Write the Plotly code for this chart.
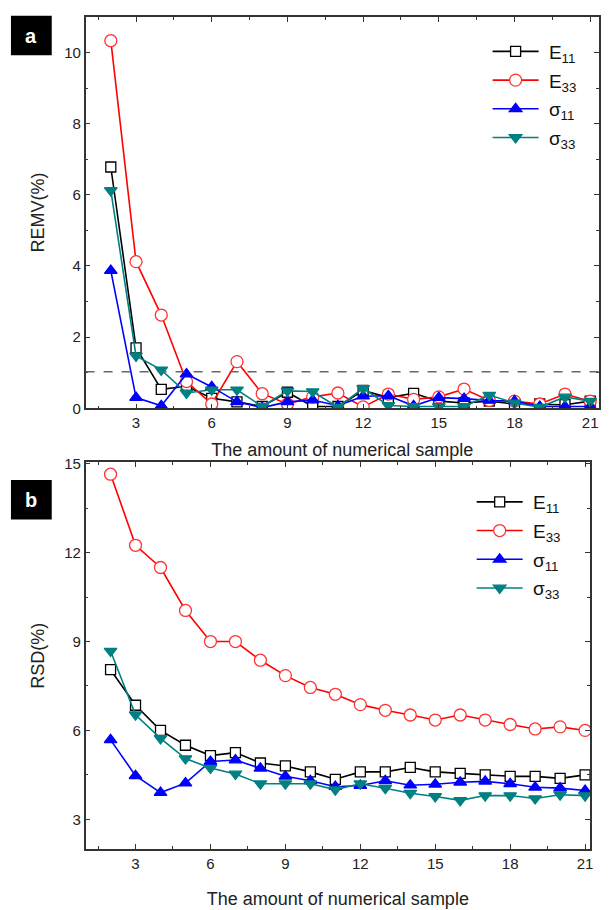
import plotly.graph_objects as go

x = list(range(2, 22))

# Panel a: REMV (%)
remv_E11 = [6.78, 1.70, 0.53, 0.62, 0.28, 0.18, 0.05, 0.45, 0.05, 0.05, 0.50, 0.30, 0.42, 0.20, 0.15, 0.20, 0.12, 0.12, 0.10, 0.20]
remv_E33 = [10.33, 4.12, 2.62, 0.75, 0.12, 1.31, 0.41, 0.12, 0.32, 0.43, 0.04, 0.40, 0.25, 0.32, 0.54, 0.22, 0.20, 0.12, 0.40, 0.20]
remv_S11 = [3.87, 0.30, 0.07, 0.96, 0.60, 0.18, 0.02, 0.18, 0.23, 0.07, 0.34, 0.35, 0.07, 0.30, 0.27, 0.22, 0.20, 0.05, 0.05, 0.05]
remv_S33 = [6.12, 1.47, 1.08, 0.43, 0.52, 0.52, 0.05, 0.49, 0.47, 0.03, 0.56, 0.08, 0.05, 0.05, 0.05, 0.37, 0.15, 0.03, 0.32, 0.20]
threshold = 1.03

# Panel b: RSD (%)
rsd_E11 = [8.05, 6.85, 6.0, 5.5, 5.15, 5.25, 4.9, 4.8, 4.6, 4.35, 4.6, 4.6, 4.75, 4.6, 4.55, 4.5, 4.45, 4.45, 4.38, 4.5]
rsd_E33 = [14.65, 12.25, 11.5, 10.05, 9.0, 9.0, 8.37, 7.85, 7.45, 7.22, 6.87, 6.68, 6.52, 6.35, 6.52, 6.35, 6.2, 6.05, 6.12, 6.0]
rsd_S11 = [5.68, 4.47, 3.9, 4.22, 4.95, 5.0, 4.72, 4.45, 4.3, 4.1, 4.14, 4.3, 4.15, 4.18, 4.25, 4.28, 4.2, 4.08, 4.05, 3.97]
rsd_S33 = [8.68, 6.53, 5.73, 5.05, 4.73, 4.53, 4.2, 4.2, 4.2, 4.0, 4.2, 4.05, 3.88, 3.77, 3.64, 3.8, 3.8, 3.7, 3.83, 3.8]

names = ["\u00a0E<sub>11</sub>", "\u00a0E<sub>33</sub>", "\u00a0σ<sub>11</sub>", "\u00a0σ<sub>33</sub>"]
colors = ["#000000", "#ff0000", "#0000ff", "#008080"]
symbols = ["square", "circle", "triangle-up", "triangle-down"]
msizes = [10, 12, 11, 11]
fills = ["white", "white", "#0000ff", "#008080"]
edges = ["#000000", "#ff3333", "#0000ff", "#008080"]

FONT = "Arial, Liberation Sans, Helvetica, sans-serif"
W, H = 612, 910

fig = go.Figure()

def add_series(data, xa, ya, legend):
    for i, ys in enumerate(data):
        fig.add_trace(go.Scatter(
            x=x, y=ys, mode="lines+markers", name=names[i],
            xaxis=xa, yaxis=ya, legend=legend, legendgroup=legend + str(i),
            line=dict(color=colors[i], width=1.6),
            marker=dict(symbol=symbols[i], size=msizes[i], color=fills[i],
                        line=dict(color=edges[i], width=1.3)),
        ))

add_series([remv_E11, remv_E33, remv_S11, remv_S33], "x", "y", "legend")
add_series([rsd_E11, rsd_E33, rsd_S11, rsd_S33], "x2", "y2", "legend2")

TICKFONT = dict(family=FONT, size=15, color="#222222")
TITLEFONT = dict(family=FONT, size=18, color="#222222")

axis_common = dict(
    showline=True, linecolor="#333333", linewidth=1.5, mirror="ticks",
    ticks="inside", ticklen=5, tickwidth=1.2, tickcolor="#333333",
    showgrid=False, zeroline=False, tickfont=TICKFONT,
)

def minor(vals):
    return dict(tickmode="array", tickvals=vals, ticks="inside", ticklen=3, tickcolor="#333333")

def px_x(p):
    return p / W

def px_y(p):
    return 1 - p / H

xt = [3, 6, 9, 12, 15, 18, 21]
xm = [1.5, 4.5, 7.5, 10.5, 13.5, 16.5, 19.5]

fig.update_layout(
    width=W, height=H,
    margin=dict(l=0, r=0, t=0, b=0),
    paper_bgcolor="white", plot_bgcolor="white",
    xaxis=dict(domain=[px_x(86), px_x(602)], range=[1, 21.35], tickmode="array", tickvals=xt,
               minor=minor(xm),
               title=dict(text="The amount of numerical sample", standoff=13, font=TITLEFONT),
               anchor="y", **axis_common),
    yaxis=dict(domain=[px_y(408), px_y(10)], range=[0, 11], tickmode="array",
               tickvals=[0, 2, 4, 6, 8, 10], minor=minor([1, 3, 5, 7, 9]),
               title=dict(text="REMV(%)", standoff=15, font=TITLEFONT),
               anchor="x", **axis_common),
    xaxis2=dict(domain=[px_x(86), px_x(593)], range=[1, 21.2], tickmode="array", tickvals=xt,
                minor=minor(xm),
                title=dict(text="The amount of numerical sample", standoff=22, font=TITLEFONT),
                anchor="y2", **axis_common),
    yaxis2=dict(domain=[px_y(856), px_y(463)], range=[2, 15.05], tickmode="array",
                tickvals=[3, 6, 9, 12, 15], minor=minor([4.5, 7.5, 10.5, 13.5]),
                title=dict(text="RSD(%)", standoff=15, font=TITLEFONT),
                anchor="x2", **axis_common),
    legend=dict(x=px_x(490), y=px_y(26), xanchor="left", yanchor="top",
                bgcolor="rgba(0,0,0,0)", tracegroupgap=1,
                font=dict(family=FONT, size=19, color="#111111"), itemwidth=46),
    legend2=dict(x=px_x(474), y=px_y(484), xanchor="left", yanchor="top",
                 bgcolor="rgba(0,0,0,0)", tracegroupgap=1,
                 font=dict(family=FONT, size=19, color="#111111"), itemwidth=46),
    showlegend=True,
)

# dashed threshold line in panel a
fig.add_shape(type="line", xref="x domain", yref="y", x0=0, x1=1, y0=threshold, y1=threshold,
              line=dict(color="#666666", width=1.5, dash="dash"))

# panel labels
for lab, top in [("a", 9), ("b", 481)]:
    fig.add_shape(type="rect", xref="paper", yref="paper",
                  x0=px_x(11), x1=px_x(52), y0=px_y(top + 40), y1=px_y(top),
                  fillcolor="black", line=dict(width=0))
    fig.add_annotation(text="<b>" + lab + "</b>", xref="paper", yref="paper",
                       x=px_x(31.5), y=px_y(top + 20), xanchor="center", yanchor="middle",
                       showarrow=False, font=dict(family=FONT, size=20, color="white"))

fig.write_html("out.html", config={"displayModeBar": False},
               post_script="document.body.style.margin='0';")
